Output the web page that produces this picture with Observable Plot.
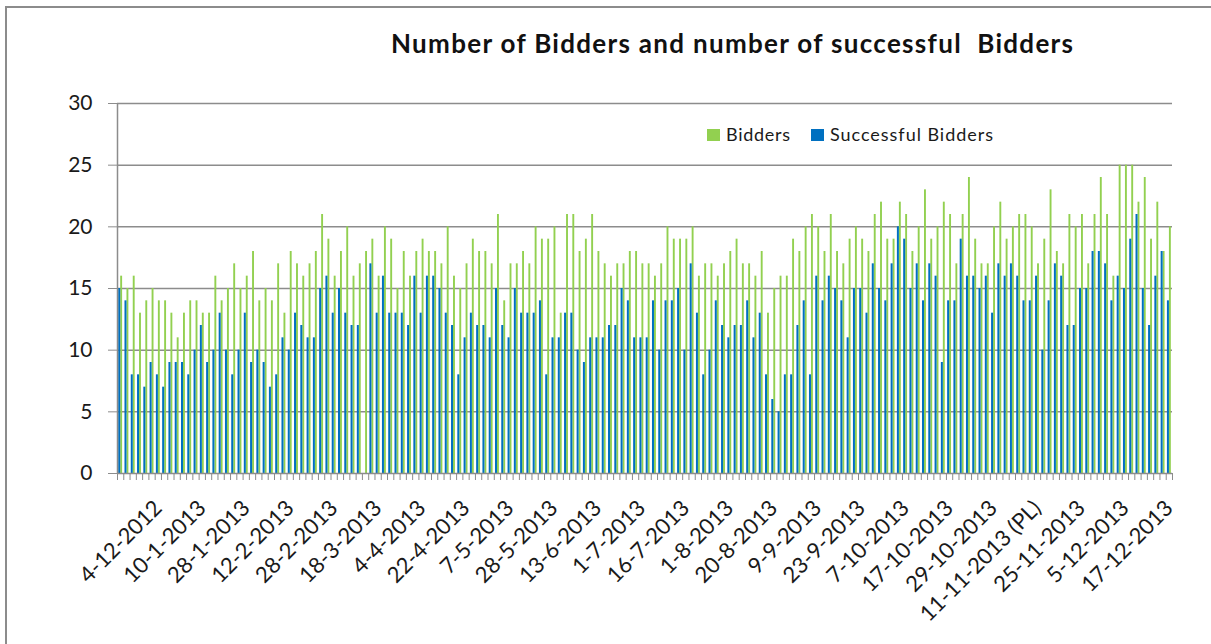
<!DOCTYPE html>
<html><head><meta charset="utf-8">
<script src="https://cdn.jsdelivr.net/npm/d3@7"></script>
<script src="https://cdn.jsdelivr.net/npm/@observablehq/plot@0.6"></script>
<style>
html,body{margin:0;padding:0;background:#fff;overflow:hidden}
#wrap{position:relative;width:1211px;height:644px;overflow:hidden;font-family:Lato,sans-serif}
#border{position:absolute;left:5px;top:6px;width:1230px;height:720px;border:2px solid #8c8c8c;box-sizing:border-box}
#chart{position:absolute;left:0;top:0}
#overlay{position:absolute;left:0;top:0}
</style></head>
<body><div id="wrap"><div id="border"></div><div id="chart"></div><svg id="overlay" width="1211" height="644"></svg></div>
<script>
const bidders = [
  16,15,16,13,14,15,14,14,13,11,
  13,14,14,13,13,16,14,15,17,15,
  16,18,14,15,14,17,13,18,17,16,
  17,18,21,19,16,18,20,16,17,18,
  19,16,20,19,15,18,16,18,19,18,
  18,17,20,16,15,17,19,18,18,17,
  21,14,17,17,18,17,20,19,19,20,
  13,21,21,18,19,21,18,17,16,17,
  17,18,18,17,17,16,17,20,19,19,
  19,20,16,17,17,16,17,18,19,17,
  17,16,18,13,15,16,16,19,18,20,
  21,20,18,21,18,17,19,20,19,18,
  21,22,19,19,22,21,18,20,23,19,
  20,22,21,17,21,24,19,17,17,20,
  22,19,20,21,21,20,17,19,23,18,
  17,21,20,21,17,21,24,21,16,25,
  25,25,22,24,19,22,18,20
];
const successful = [
  15,14,8,8,7,9,8,7,9,9,
  9,8,10,12,9,10,13,10,8,10,
  13,9,10,9,7,8,11,10,13,12,
  11,11,15,16,13,15,13,12,12,0,
  17,13,16,13,13,13,12,16,13,16,
  16,15,13,12,8,11,13,12,12,11,
  15,12,11,15,13,13,13,14,8,11,
  11,13,13,10,9,11,11,11,12,12,
  15,14,11,11,11,14,10,14,14,15,
  10,17,13,8,10,14,12,11,12,12,
  14,11,13,8,6,5,8,8,12,14,
  8,16,14,16,15,14,11,15,15,13,
  17,15,14,17,20,19,15,17,14,17,
  16,9,14,14,19,16,16,15,16,13,
  17,16,17,16,14,14,16,10,14,17,
  16,12,12,15,15,18,18,17,14,16,
  15,19,21,15,12,16,18,14
];
const tickLabels = [
  "4-12-2012","10-1-2013","28-1-2013","12-2-2013","28-2-2013","18-3-2013",
  "4-4-2013","22-4-2013","7-5-2013","28-5-2013","13-6-2013","1-7-2013",
  "16-7-2013","1-8-2013","20-8-2013","9-9-2013","23-9-2013","7-10-2013",
  "17-10-2013","29-10-2013","11-11-2013 (PL)","25-11-2013","5-12-2013","17-12-2013"
];
const labelStep = 7;
const yTicks = [0, 5, 10, 15, 20, 25, 30];
const seriesNames = ["Bidders", "Successful Bidders"];
const seriesColors = ["#92D050", "#0070C0"];
const titleText = "Number of Bidders and number of successful  Bidders";

const categories = d3.range(1, bidders.length + 1);
const rows = categories.map((c, i) => ({cat: c, bidders: bidders[i], successful: successful[i]}));
const labelCats = tickLabels.map((_, i) => (i + 1) * labelStep);
const labelOf = new Map(labelCats.map((c, i) => [c, tickLabels[i]]));

const W = 1211, H = 644, mL = 117, mR = 39, mT = 103, mB = 171;
const bw = (W - mL - mR) / categories.length;
const grid = "#8c8c8c";

const chart = Plot.plot({
  width: W, height: H,
  marginLeft: mL, marginRight: mR, marginTop: mT, marginBottom: mB,
  style: {fontFamily: "Lato, sans-serif", background: "transparent", overflow: "visible"},
  x: {type: "band", domain: categories, padding: 0, round: false, axis: null, label: null},
  y: {domain: [0, 30], axis: null, label: null},
  marks: [
    Plot.gridY({ticks: yTicks.slice(1), stroke: grid, strokeOpacity: 1, strokeWidth: 1.5}),
    Plot.barY(rows, {x: "cat", y: "bidders", fill: seriesColors[0], insetLeft: 3.2, insetRight: bw - 5.1}),
    Plot.barY(rows, {x: "cat", y: "successful", fill: seriesColors[1], insetLeft: 1.2, insetRight: bw - 3.2}),
    Plot.ruleY([0], {stroke: grid, strokeWidth: 1.5}),
    Plot.ruleX([categories[0]], {dx: -bw / 2, stroke: grid, strokeWidth: 1.5}),
    Plot.axisY({ticks: yTicks, tickSize: 9, tickPadding: 16, fontSize: 21, stroke: grid, fill: "#1a1a1a", label: null}),
    Plot.axisX({ticks: categories, tickSize: 7, tickFormat: () => "", dx: -bw / 2, stroke: grid, label: null}),
    Plot.axisX({ticks: [categories[categories.length - 1]], tickSize: 7, tickFormat: () => "", dx: bw / 2, stroke: grid, label: null}),
    Plot.axisX({ticks: labelCats, tickFormat: d => labelOf.get(d), tickRotate: -45, tickSize: 0, tickPadding: 31,
      textAnchor: "end", lineAnchor: "middle", fontSize: 22, fill: "#1a1a1a", label: null})
  ]
});
document.getElementById("chart").appendChild(chart);

const ov = d3.select("#overlay");
ov.append("text").attr("x", 732).attr("y", 53).attr("text-anchor", "middle")
  .attr("font-family", "Lato, sans-serif").attr("font-weight", 700).attr("font-size", 26)
  .attr("textLength", 682).attr("lengthAdjust", "spacing")
  .attr("fill", "#111").style("white-space", "pre").text(titleText);
const legendX = [707, 811];
const legendLen = [64, 163];
seriesNames.forEach((name, i) => {
  ov.append("rect").attr("x", legendX[i]).attr("y", 129).attr("width", 13).attr("height", 12).attr("fill", seriesColors[i]);
  ov.append("text").attr("x", legendX[i] + 19).attr("y", 141).attr("font-family", "Lato, sans-serif")
    .attr("font-size", 18).attr("textLength", legendLen[i]).attr("lengthAdjust", "spacing")
    .attr("fill", "#1a1a1a").text(name);
});
</script>
</body></html>
